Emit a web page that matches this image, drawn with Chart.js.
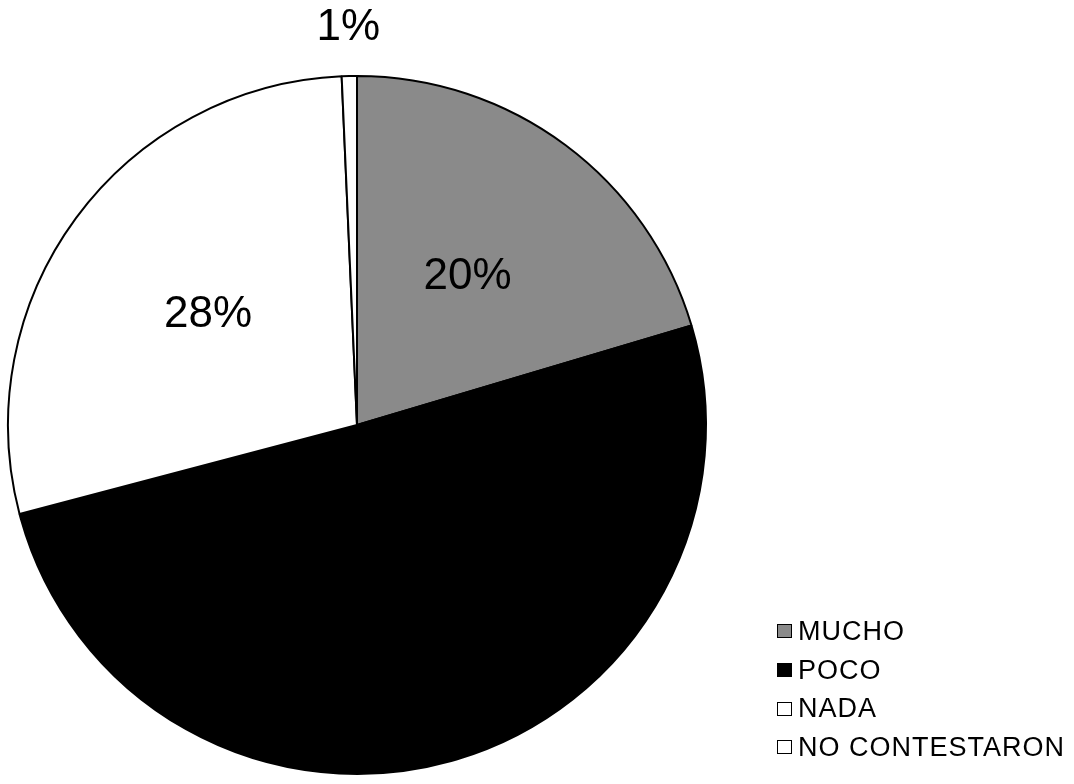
<!DOCTYPE html>
<html>
<head>
<meta charset="utf-8">
<script src="https://cdn.jsdelivr.net/npm/chart.js@4/dist/chart.umd.min.js"></script>
<style>
    body { margin: 0; background: #fff; }
    #wrap { position: relative; width: 1074px; height: 784px; }
    #legend {
        position: absolute; left: 777px; top: 612px;
        font-family: 'Liberation Sans', Arial, sans-serif;
        font-size: 27px; letter-spacing: 1px; color: #000;
    }
    .row { height: 38.7px; display: flex; align-items: center; }
    .box { width: 13px; height: 12px; border: 1.5px solid #000; margin-right: 6px; }
</style>
</head>
<body>
<div id="wrap">
    <canvas id="pie" width="1074" height="784"></canvas>
    <div id="legend"></div>
</div>
<script>
const categories = ['MUCHO', 'POCO', 'NADA', 'NO CONTESTARON'];
const percentages = [20.4, 50.5, 28.4, 0.7];
const sliceColors = ['#8a8a8a', '#000000', '#ffffff', '#ffffff'];
// POCO's label is black on black in the original, so it is not drawn
const labelColors = ['#000000', null, '#000000', '#000000'];

document.addEventListener('DOMContentLoaded', function () {

    // ===== ETIQUETAS DE PORCENTAJE =====
    const percentLabels = {
        id: 'percentLabels',
        afterDatasetsDraw(chart) {
            const { ctx } = chart;
            const meta = chart.getDatasetMeta(0);
            meta.data.forEach((arc, index) => {
                if (!labelColors[index]) return;
                const { x, y, startAngle, endAngle, outerRadius } = arc.getProps(['x', 'y', 'startAngle', 'endAngle', 'outerRadius'], true);
                const mid = (startAngle + endAngle) / 2;
                const small = (endAngle - startAngle) < 0.2;
                const r = small ? outerRadius + 48 : outerRadius * 0.53;
                ctx.save();
                ctx.font = '44px "Liberation Sans", Arial, sans-serif';
                ctx.textAlign = 'center';
                ctx.textBaseline = 'middle';
                ctx.fillStyle = labelColors[index];
                ctx.fillText(Math.round(percentages[index]) + '%', x + Math.cos(mid) * r, y + Math.sin(mid) * r);
                ctx.restore();
            });
        }
    };

    new Chart(document.getElementById('pie'), {
        type: 'pie',
        data: {
            labels: categories,
            datasets: [{
                data: percentages,
                backgroundColor: sliceColors,
                borderColor: '#000000',
                borderWidth: 2
            }]
        },
        options: {
            responsive: false,
            animation: false,
            layout: {
                padding: { left: 7, top: 75, right: 367, bottom: 9 }
            },
            plugins: {
                legend: { display: false },
                tooltip: { enabled: false }
            }
        },
        plugins: [percentLabels]
    });

    // ===== LEYENDA =====
    const legend = document.getElementById('legend');
    categories.forEach((name, i) => {
        const row = document.createElement('div');
        row.className = 'row';
        const box = document.createElement('span');
        box.className = 'box';
        box.style.background = sliceColors[i];
        const text = document.createElement('span');
        text.textContent = name;
        row.appendChild(box);
        row.appendChild(text);
        legend.appendChild(row);
    });
});
</script>
</body>
</html>
